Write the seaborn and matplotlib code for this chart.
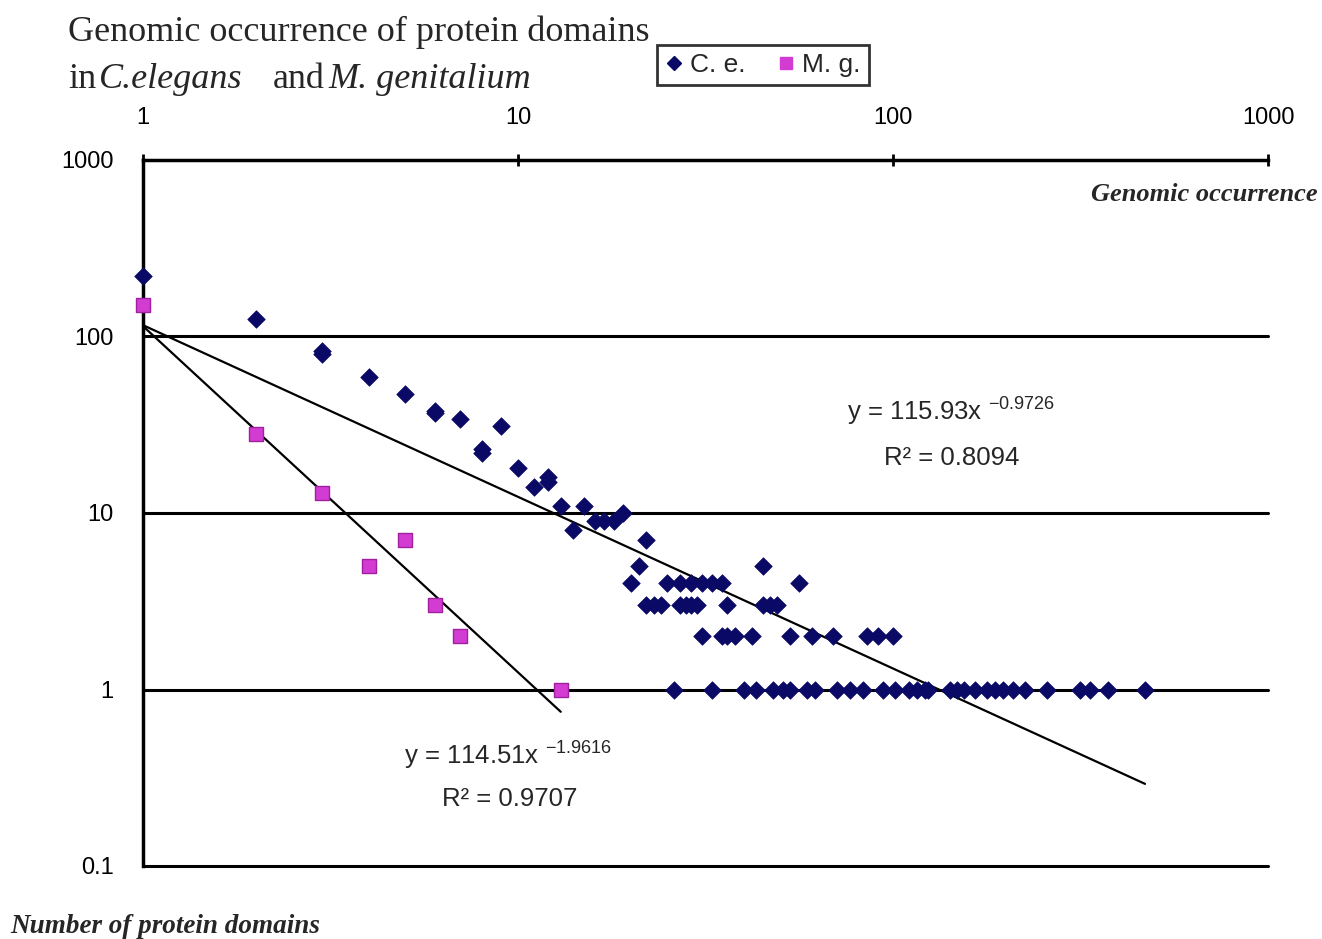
import numpy as np
import pandas as pd
import seaborn as sns
import matplotlib
matplotlib.use("Agg")
import matplotlib.pyplot as plt
from matplotlib.lines import Line2D

# ---------------- data ----------------
ce_x = [1, 2, 3, 3, 4, 5, 6, 6, 7, 8, 8, 9, 10, 11, 12, 12, 13, 14, 15,
        16, 17, 18, 19, 20, 21, 22, 22, 23, 24, 25, 26, 27, 28, 29, 30,
        27, 29, 31, 33, 35, 31, 33, 35, 36, 38, 36, 40, 42, 43, 45,
        45, 47, 49, 48, 51, 53, 53, 56, 59, 62, 61, 69, 71, 77, 83,
        85, 91, 100, 94, 101, 110, 116, 122, 124, 142, 148, 155, 165, 178,
        187, 196, 209, 225, 257, 315, 335, 374, 470]
ce_y = [220, 126, 80, 83, 59, 47, 38, 37, 34, 23, 22, 31, 18, 14, 16, 15, 11, 8, 11,
        9, 9, 9, 10, 4, 5, 7, 3, 3, 3, 4, 1, 3, 3, 3, 3,
        4, 4, 4, 4, 4, 2, 1, 2, 2, 2, 3, 1, 2, 1, 5,
        3, 3, 3, 1, 1, 1, 2, 4, 1, 1, 2, 2, 1, 1, 1,
        2, 2, 2, 1, 1, 1, 1, 1, 1, 1, 1, 1, 1, 1,
        1, 1, 1, 1, 1, 1, 1, 1, 1]
mg_x = [1, 2, 3, 4, 5, 6, 7, 13]
mg_y = [150, 28, 13, 5, 7, 3, 2, 1]

# power trend line coefficients (as printed on the chart)
ce_coef, ce_exp, ce_r2 = 115.93, -0.9726, 0.8094
mg_coef, mg_exp, mg_r2 = 114.51, -1.9616, 0.9707

x_ticks = [1, 10, 100, 1000]
x_ticklabels = ["1", "10", "100", "1000"]
y_ticks = [0.1, 1, 10, 100, 1000]
y_ticklabels = ["0.1", "1", "10", "100", "1000"]

series_names = ["C. e.", "M. g."]
title_line1 = "Genomic occurrence of protein domains"
x_label = "Genomic occurrence"
y_label = "Number of protein domains"

# ---------------- style ----------------
sns.set_style("white")
plt.rcParams["font.family"] = ["Liberation Sans", "DejaVu Sans"]
plt.rcParams["mathtext.fontset"] = "custom"
plt.rcParams["mathtext.rm"] = "Liberation Sans"
plt.rcParams["mathtext.it"] = "Liberation Sans:italic"
plt.rcParams["mathtext.bf"] = "Liberation Sans:bold"

W, H = 1322, 939
fig = plt.figure(figsize=(W / 100, H / 100), dpi=100)
fig.patch.set_facecolor("white")

L, R, T, B = 143, 1268, 160, 866
ax = fig.add_axes([L / W, 1 - B / H, (R - L) / W, (B - T) / H])

ce_df = pd.DataFrame({"x": ce_x, "y": ce_y})
mg_df = pd.DataFrame({"x": mg_x, "y": mg_y})

ce_col = "#0a0a66"
mg_col = "#d23cd2"

sns.scatterplot(data=ce_df, x="x", y="y", marker="D", s=80, color=ce_col,
                edgecolor=ce_col, linewidth=0.5, ax=ax, zorder=4, clip_on=False)
sns.scatterplot(data=mg_df, x="x", y="y", marker="s", s=110, color=mg_col,
                edgecolor="#a020a0", linewidth=1.0, ax=ax, zorder=4, clip_on=False)

# trend lines
xs_ce = np.logspace(0, np.log10(max(ce_x)), 200)
ax.plot(xs_ce, ce_coef * xs_ce ** ce_exp, color="black", lw=1.6, zorder=3)
xs_mg = np.logspace(0, np.log10(max(mg_x)), 200)
ax.plot(xs_mg, mg_coef * xs_mg ** mg_exp, color="black", lw=1.6, zorder=3)

ax.set_xscale("log")
ax.set_yscale("log")
ax.set_xlim(1, 1000)
ax.set_ylim(0.1, 1000)
ax.set_xticks(x_ticks)
ax.set_xticklabels(x_ticklabels)
ax.set_yticks(y_ticks)
ax.set_yticklabels(y_ticklabels)
ax.minorticks_off()
ax.xaxis.tick_top()
ax.tick_params(axis="x", which="major", direction="inout", length=9, width=2,
               pad=18, labelsize=17, colors="black")
ax.tick_params(axis="y", which="major", direction="inout", length=10, width=2,
               pad=16, labelsize=17, colors="black")
ax.set_xlabel("")
ax.set_ylabel("")

for s in ["right", "bottom"]:
    ax.spines[s].set_visible(False)
for s in ["top", "left"]:
    ax.spines[s].set_visible(True)
    ax.spines[s].set_color("black")
    ax.spines[s].set_linewidth(2.5)

for yv in y_ticks[:-1]:
    ax.axhline(yv, color="black", lw=2.2, zorder=2, clip_on=False)
ax.grid(False)

# ---------------- texts ----------------
def fx(px):
    return px / W

def fy(py):
    return 1 - py / H

serif = ["Liberation Serif", "DejaVu Serif"]
TS = 26
fig.text(fx(68), fy(41), title_line1, family=serif, fontsize=TS, ha="left", va="baseline")

renderer = fig.canvas.get_renderer()
pieces = [("in", "normal", 3), ("C.elegans", "italic", 30), ("and", "normal", 4),
          ("M. genitalium", "italic", 0)]
xcur = 68
for txt, sty, gap in pieces:
    t = fig.text(fx(xcur), fy(88), txt, family=serif, style=sty, fontsize=TS,
                 ha="left", va="baseline")
    bb = t.get_window_extent(renderer=renderer)
    xcur = xcur + bb.width + gap

fig.text(fx(1318), fy(201), x_label, family=serif, style="italic", weight="bold",
         fontsize=19, ha="right", va="baseline")
fig.text(fx(10), fy(933), y_label, family=serif, style="italic", weight="bold",
         fontsize=19.5, ha="left", va="baseline")

fig.text(fx(847), fy(421), r"y = 115.93x $^{%.4f}$" % ce_exp, fontsize=18.5,
         ha="left", va="baseline")
fig.text(fx(884), fy(465), "R² = %.4f" % ce_r2, fontsize=18.5, ha="left", va="baseline")
fig.text(fx(404), fy(765), r"y = 114.51x $^{%.4f}$" % mg_exp, fontsize=18.5,
         ha="left", va="baseline")
fig.text(fx(442), fy(806), "R² = %.4f" % mg_r2, fontsize=18.5, ha="left", va="baseline")

# ---------------- legend ----------------
handles = [
    Line2D([], [], marker="D", linestyle="", markersize=7, color=ce_col),
    Line2D([], [], marker="s", linestyle="", markersize=9, color=mg_col),
]
leg = fig.legend(handles, series_names, loc="upper left",
                 bbox_to_anchor=(fx(657), fy(45)), ncol=2, frameon=True,
                 fancybox=False, edgecolor="black", fontsize=19,
                 handlelength=0.7, handletextpad=0.25, columnspacing=1.2,
                 borderpad=0.3, borderaxespad=0)
leg.get_frame().set_linewidth(2)

fig.savefig("out.png", dpi=100, facecolor="white")
